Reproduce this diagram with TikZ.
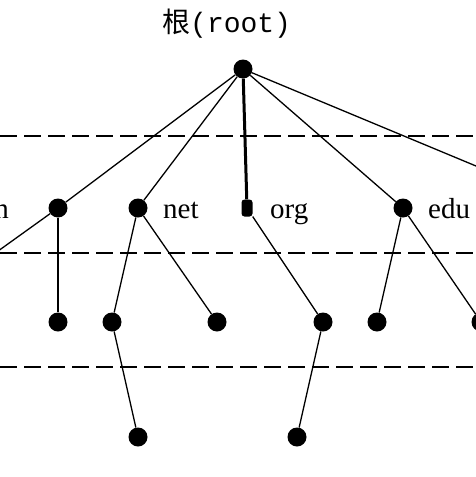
\documentclass[tikz,border=0pt]{standalone}
\usepackage{fontspec}
\setmainfont{Liberation Serif}
\setmonofont{Liberation Mono}
\newfontfamily\cjk{Noto Sans CJK SC}
\usepackage{tikz}
\usetikzlibrary{positioning}
\tikzset{>=latex}
\tikzset{
  dot/.style={circle, fill=black, inner sep=0pt, minimum size=19pt},
  halfdot/.style={rectangle, fill=black, inner sep=0pt, rounded corners=3pt,
    minimum width=11pt, minimum height=17pt},
  lvl/.style={dash pattern=on 17pt off 7pt, line width=1.8pt},
  edge/.style={line width=1.3pt},
  lab/.style={font=\fontsize{29}{30}\selectfont, anchor=base west, inner sep=0pt}
}

\begin{document}
\begin{tikzpicture}[x=1pt, y=-1pt]
\useasboundingbox (0,0) rectangle (476,477);
\clip (0,0) rectangle (476,477);
% levels
\draw[lvl] (0,136) -- (476,136);
\draw[lvl] (0,253) -- (476,253);
\draw[lvl] (0,367) -- (476,367);
% root
\node[inner sep=0pt, anchor=base west] (title) at (162,32)
  {\fontsize{28}{30}\selectfont{\cjk 根}\ttfamily(root)};
\node[dot] (root) at (243,69) {};
% top level
\node[dot] (c1) at (58,208) {};
\node[dot] (net) at (138,208) {};
\node[halfdot] (org) at (247,208) {};
\node[dot] (edu) at (403,208) {};
\coordinate (lx) at (-20,264);
\coordinate (rx) at (500,176);
\node[lab, anchor=base east] (cl) at (9,218) {n};
\node[lab] (netl) at (163,218) {net};
\node[lab] (orgl) at (270,218) {org};
\node[lab] (edul) at (428,218) {edu};
% second level
\node[dot] (c1a) at (58,322) {};
\node[dot] (neta) at (112,322) {};
\node[dot] (netb) at (217,322) {};
\node[dot] (orga) at (323,322) {};
\node[dot] (edua) at (377,322) {};
\node[dot] (edub) at (481,322) {};
% third level
\node[dot] (netaa) at (138,437) {};
\node[dot] (orgaa) at (297,437) {};
% edges
\draw[edge] (root) -- (c1);
\draw[edge] (root) -- (net);
\draw[line width=3pt] (root) -- (org);
\draw[edge] (root) -- (edu);
\draw[edge] (root) -- (rx);
\draw[edge] (c1) -- (lx);
\draw[edge] (c1) -- (c1a);
\draw[edge] (net) -- (neta);
\draw[edge] (net) -- (netb);
\draw[edge] (org) -- (orga);
\draw[edge] (edu) -- (edua);
\draw[edge] (edu) -- (edub);
\draw[edge] (neta) -- (netaa);
\draw[edge] (orga) -- (orgaa);
\end{tikzpicture}
\end{document}
